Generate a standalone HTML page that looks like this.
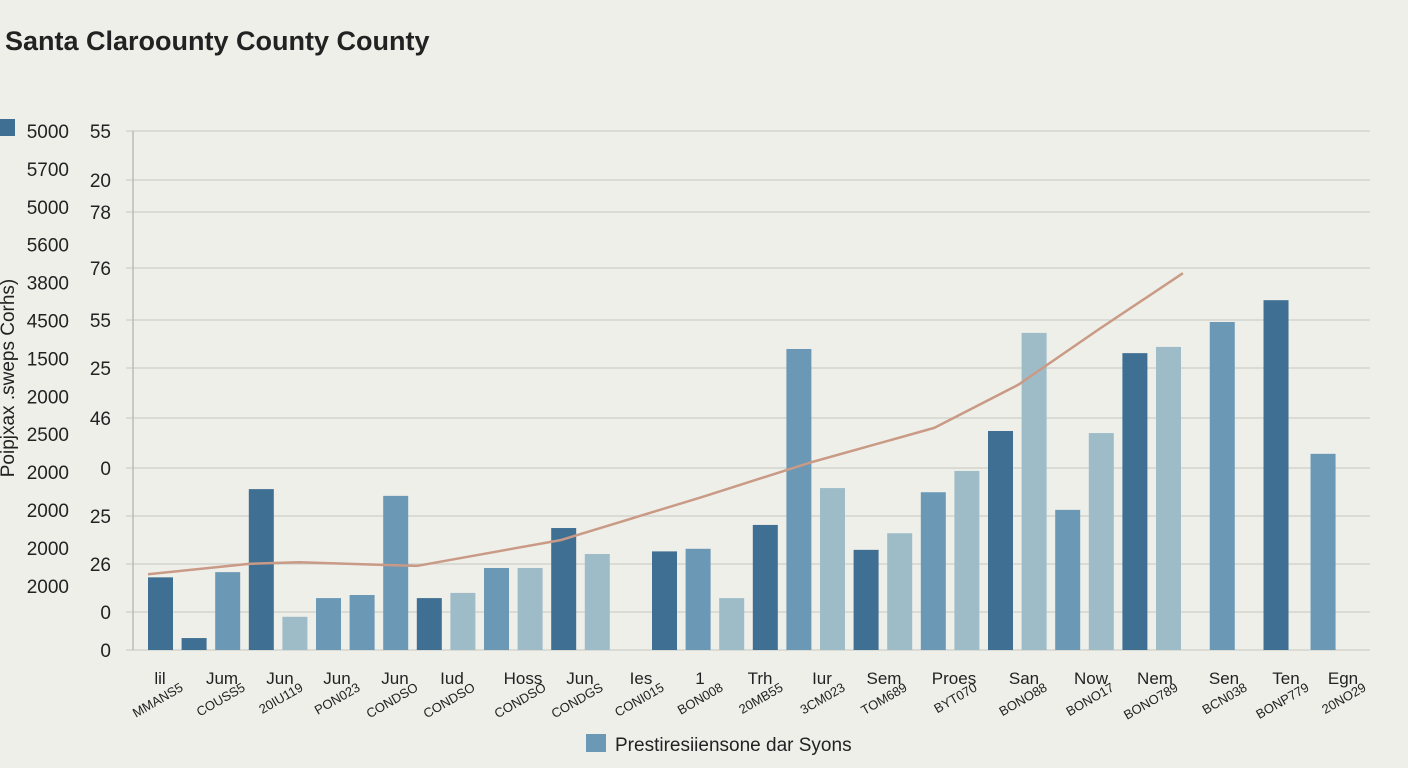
<!DOCTYPE html>
<html><head><meta charset="utf-8"><style>
body{margin:0;background:#efefea;font-family:"Liberation Sans",sans-serif;}
svg{display:block}
</style></head><body>
<svg id="c" width="1408" height="768">
<text x="5" y="50" font-size="27" font-weight="bold" fill="#222">Santa Claroounty County County</text>
<rect x="0" y="119" width="15" height="17" fill="#3f6f93"/>
<text transform="translate(14,378) rotate(-90)" text-anchor="middle" font-size="19" fill="#222">Poipjxax .sweps Corhs)</text>
<g id="grid"></g><g id="bars"></g><g id="line"></g><g id="labels"></g>
<rect x="586" y="734" width="20" height="18" fill="#6b98b5"/>
<text x="615" y="751" font-size="19" fill="#222">Prestiresiiensone dar Syons</text>
</svg>
<script>
const leftTicks=["5000","5700","5000","5600","3800","4500","1500","2000","2500","2000","2000","2000","2000"];
const rightTicks=["55","20","78","76","55","25","46","0","25","26","0","0"];
const gridY=[131,180,212,268,320,368,418,468,516,564,612,650];
const slots=[0,1,2,3,4,5,6,7,8,9,10,11,12,13,15,16,17,18,19,20,21,22,23,24,25,26,27,28,29,30,31.6,33.2,34.6];
const values=[14,2.3,15,31,6.4,10,10.6,29.7,10,11,15.8,15.8,23.5,18.5,19,19.5,10,24.1,58,31.2,19.3,22.5,30.4,34.5,42.2,61.1,27,41.8,57.2,58.4,63.2,67.4,37.8];
const shades=[0,0,1,0,2,1,1,1,0,2,1,2,0,2,0,1,2,0,1,2,0,2,1,2,0,2,1,2,0,2,1,0,1];
const lineSlots=[0,3,4.5,8,12.3,16.5,19.7,23.4,25.9,28.3,30.8];
const lineVals=[14.6,16.6,16.9,16.2,21.2,29.5,36.1,42.8,51.1,61.8,72.6];
const catTop=["lil","Jum","Jun","Jun","Jun","Iud","Hoss","Jun","Ies","1","Trh","Iur","Sem","Proes","San","Now","Nem","Sen","Ten","Egn"];
const catBot=["MMANS5","COUSS5","20IU119","PON023","CONDSO","CONDSO","CONDSO","CONDGS","CONI015","BON008","20MB55","3CM023","TOM689","BYT070","BONO88","BONO17","BONO789","BCN038","BONP779","20NO29"];
const catX=[160,222,280,337,395,452,523,580,641,700,760,822,884,954,1024,1091,1155,1224,1286,1343];
const NS="http://www.w3.org/2000/svg";
const x=s=>148+s*33.6, y=v=>650-v*5.19, BW=25;
const colors=["#3f6f93","#6b98b5","#9dbcc8"];
function mk(t,a,p){const e=document.createElementNS(NS,t);for(const k in a)e.setAttribute(k,a[k]);p.appendChild(e);return e;}
const g=document.getElementById('grid');
gridY.forEach((gy,i)=>{const l=mk('line',{x1:126,x2:1370,y1:gy,y2:gy,stroke:'#cfcfcb','stroke-width':1.3},g);


const t=mk('text',{x:111,y:gy+7,'text-anchor':'end','font-size':19,fill:'#222'},g);t.textContent=rightTicks[i];

});
leftTicks.forEach((s,i)=>{const t=mk('text',{x:69,y:138+i*37.9,'text-anchor':'end','font-size':19,fill:'#222'},g);t.textContent=s;

});
const ax=mk('line',{x1:133,x2:133,y1:131,y2:650,stroke:'#bbb','stroke-width':1.5},g);


const b=document.getElementById('bars');
values.forEach((v,i)=>{const r=mk('rect',{x:x(slots[i]),y:y(v),width:BW,height:650-y(v),fill:colors[shades[i]]},b);

});
const pts=lineSlots.map((s,i)=>[x(s),y(lineVals[i])]);
const pl=mk('polyline',{points:pts.map(p=>p.join(',')).join(' '),fill:'none',stroke:'#c99a85','stroke-width':2.5,'stroke-linejoin':'round'},document.getElementById('line'));


const L=document.getElementById('labels');
catTop.forEach((s,i)=>{const t=mk('text',{x:catX[i],y:684,'text-anchor':'middle','font-size':17,fill:'#222'},L);t.textContent=s;


const u=mk('text',{transform:`translate(${catX[i]+24},690) rotate(-30)`,'text-anchor':'end','font-size':13,fill:'#222'},L);u.textContent=catBot[i];

});
</script>
</body></html>
